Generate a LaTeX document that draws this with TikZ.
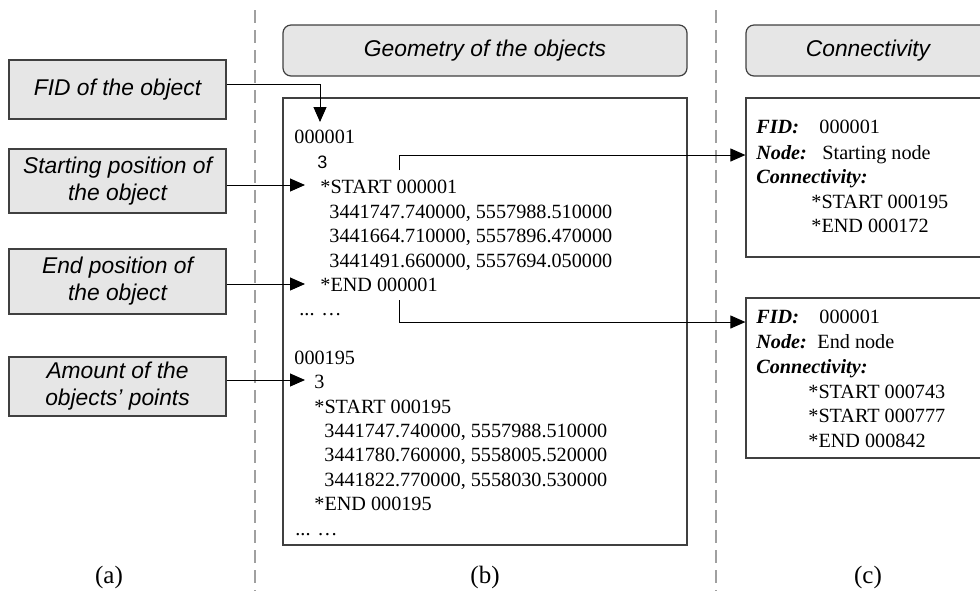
\documentclass[tikz,border=0pt]{standalone}
\usepackage{fontspec}
\setmainfont{Liberation Serif}
\setsansfont{Liberation Sans}
\usetikzlibrary{arrows.meta}
\definecolor{boxfill}{HTML}{E6E6E6}
\definecolor{boxline}{HTML}{404040}
\definecolor{dashgray}{HTML}{A0A0A0}
\tikzset{
  labelbox/.style={draw=boxline, fill=boxfill, line width=0.6pt, minimum width=108.5pt,
    align=center, inner sep=0pt, font=\sffamily\itshape\fontsize{11.4}{13.5}\selectfont},
  headbox/.style={draw=boxline, fill=boxfill, line width=0.6pt, rounded corners=4pt,
    minimum height=25.5pt, inner sep=0pt, font=\sffamily\itshape\fontsize{11.4}{13.5}\selectfont},
  panel/.style={draw=boxline, line width=0.6pt, fill=white, inner sep=0pt},
  rec/.style={anchor=base west, inner sep=0pt, font=\fontsize{10.1}{12}\selectfont},
  arr/.style={-{Triangle[length=7.5pt,width=6.5pt]}, line width=0.5pt},
  divider/.style={draw=dashgray, line width=0.7pt, dash pattern=on 6.5pt off 3.5pt},
  caption/.style={anchor=base, inner sep=0pt, font=\fontsize{12.5}{14}\selectfont},
}
\begin{document}
\begin{tikzpicture}[x=0.5pt, y=-0.5pt]
  \useasboundingbox (0,0) rectangle (980,591);
  \clip (0,0) rectangle (980,591);

  % column dividers
  \draw[divider] (255,10) -- (255,591);
  \draw[divider] (716,10) -- (716,591);

  % (a) field descriptions
  \node[labelbox, minimum height=29.5pt] (fid) at (117.5,89.5) {FID of the object};
  \node[labelbox, minimum height=32pt] (spos) at (117.5,181) {Starting position of\\the object};
  \node[labelbox, minimum height=32.5pt] (epos) at (117.5,281.5) {End position of\\the object};
  \node[labelbox, minimum height=29.5pt] (npts) at (117.5,386.5) {Amount of the\\objects' points};

  % (b) geometry records
  \node[headbox, minimum width=202pt] (geohead) at (485,50.5) {Geometry of the objects};
  \node[panel, minimum width=202pt, minimum height=223.5pt] (geo) at (485,321.5) {};

  \node[rec] (r1) at (294,143.5) {000001};
  \node[rec, font=\sffamily\fontsize{9}{11}\selectfont] (r2) at (317,168) {3};
  \node[rec] (r3) at (320,193) {*START 000001};
  \node[rec] (r4) at (329,218) {3441747.740000, 5557988.510000};
  \node[rec] (r5) at (329,242.5) {3441664.710000, 5557896.470000};
  \node[rec] (r6) at (329,267) {3441491.660000, 5557694.050000};
  \node[rec] (r7) at (320,291) {*END 000001};
  \node[rec] (r8) at (299,315) {... …};
  \node[rec] (r9) at (294,364) {000195};
  \node[rec] (r10) at (314,388) {3};
  \node[rec] (r11) at (314,413) {*START 000195};
  \node[rec] (r12) at (324,437) {3441747.740000, 5557988.510000};
  \node[rec] (r13) at (324,461.5) {3441780.760000, 5558005.520000};
  \node[rec] (r14) at (324,486) {3441822.770000, 5558030.530000};
  \node[rec] (r15) at (314,510) {*END 000195};
  \node[rec] (r16) at (295,535) {... …};

  % (c) connectivity records
  \node[headbox, minimum width=122pt] (conhead) at (868,50.5) {Connectivity};
  \node[panel, minimum width=122pt, minimum height=79.5pt] (c1) at (868,177.5) {};
  \node[panel, minimum width=122pt, minimum height=80pt] (c2) at (868,378) {};

  \node[rec, font=\bfseries\itshape\fontsize{10.1}{12}\selectfont] (c1a) at (756,133) {FID:};
  \node[rec] (c1b) at (819,133) {000001};
  \node[rec, font=\bfseries\itshape\fontsize{10.1}{12}\selectfont] (c1c) at (756,159) {Node:};
  \node[rec] (c1d) at (822,159) {Starting node};
  \node[rec, font=\bfseries\itshape\fontsize{10.1}{12}\selectfont] (c1e) at (756,183.5) {Connectivity:};
  \node[rec] (c1f) at (811,208.5) {*START 000195};
  \node[rec] (c1g) at (811,232.5) {*END 000172};

  \node[rec, font=\bfseries\itshape\fontsize{10.1}{12}\selectfont] (c2a) at (756,323.5) {FID:};
  \node[rec] (c2b) at (819,323.5) {000001};
  \node[rec, font=\bfseries\itshape\fontsize{10.1}{12}\selectfont] (c2c) at (756,348.5) {Node:};
  \node[rec] (c2d) at (817,348.5) {End node};
  \node[rec, font=\bfseries\itshape\fontsize{10.1}{12}\selectfont] (c2e) at (756,373) {Connectivity:};
  \node[rec] (c2f) at (808,398) {*START 000743};
  \node[rec] (c2g) at (808,422.5) {*START 000777};
  \node[rec] (c2h) at (808,447) {*END 000842};

  % connectors
  \coordinate (tfid) at (320,122);
  \coordinate (tspos) at (305,185);
  \coordinate (tepos) at (305,284);
  \coordinate (tnpts) at (305,380);
  \draw[arr] (fid.east |- 0,84) -| (tfid);
  \draw[arr] (spos.east |- tspos) -- (tspos);
  \draw[arr] (epos.east |- tepos) -- (tepos);
  \draw[arr] (npts.east |- tnpts) -- (tnpts);

  \coordinate (s1) at (399,170);
  \coordinate (k1) at (399,155);
  \draw[arr] (s1) -- (k1) -- (k1 -| c1.west);
  \coordinate (s2) at (399,300);
  \coordinate (k2) at (399,322);
  \draw[arr] (s2) -- (k2) -- (k2 -| c2.west);

  % panel captions
  \node[caption] (capa) at (109,583) {(a)};
  \node[caption] (capb) at (485,583) {(b)};
  \node[caption] (capc) at (868,583) {(c)};
\end{tikzpicture}
\end{document}
